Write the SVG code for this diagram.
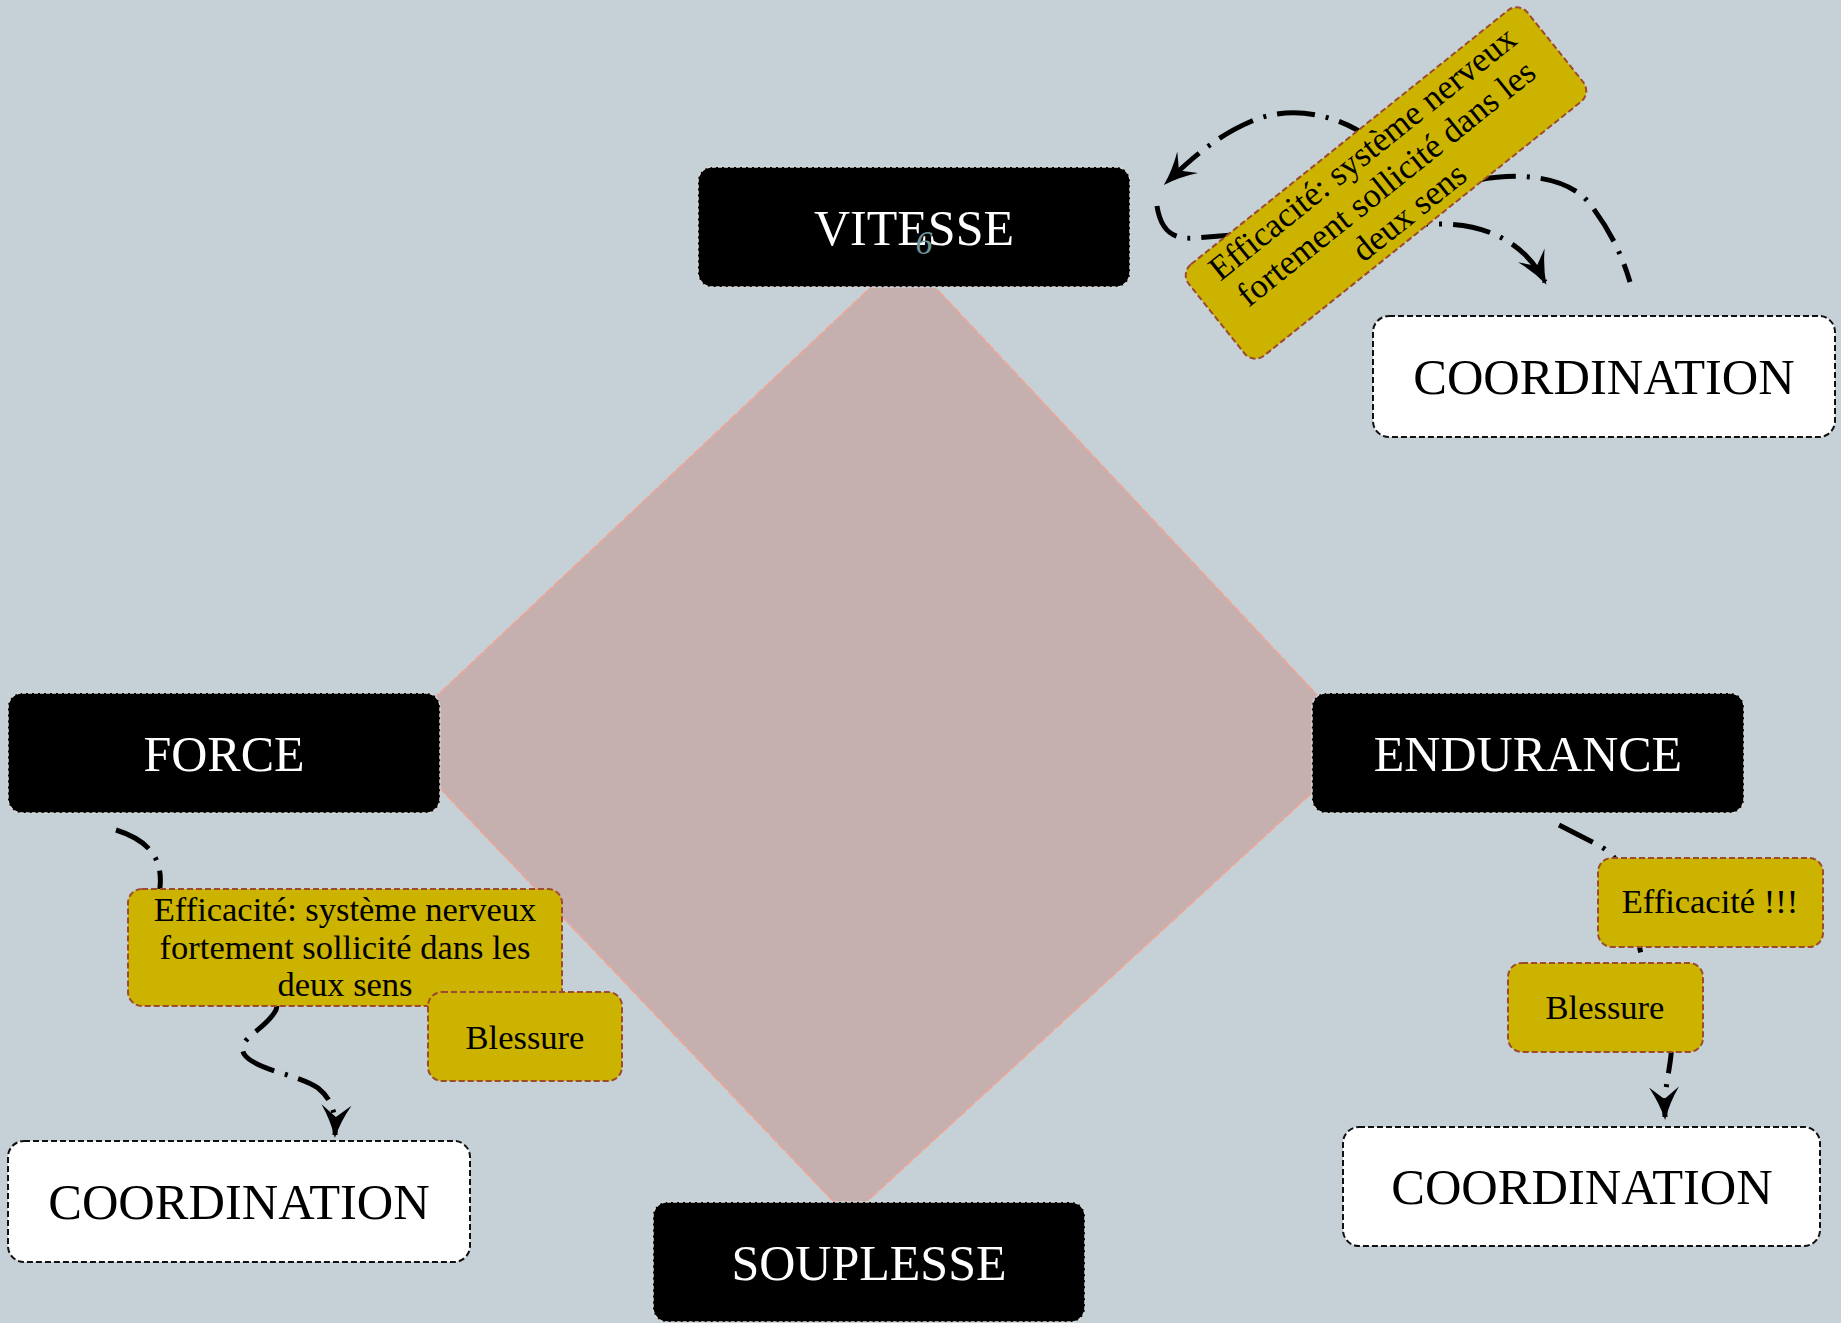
<svg xmlns="http://www.w3.org/2000/svg" width="1841" height="1323" viewBox="0 0 1841 1323">
<defs>
<style>
.lbl{font-family:"Liberation Serif","Times New Roman",serif;text-anchor:middle}
.main rect{fill:#000;stroke:#d8d8d8;stroke-width:1.5;stroke-dasharray:4 2}
.main text{fill:#fff;font-size:50px}
.coord rect{fill:#fff;stroke:#111;stroke-width:2;stroke-dasharray:6 3}
.coord text{fill:#000;font-size:50.5px}
.note rect{fill:#cbb300;stroke:#9c4a30;stroke-width:2;stroke-dasharray:6 3}
.note text{fill:#000;font-size:34.5px}
.conn{fill:none;stroke:#000;stroke-width:5;stroke-dasharray:38 11 3 11}
.arrow{marker-end:url(#arr)}
</style>
<marker id="arr" markerUnits="userSpaceOnUse" markerWidth="40" markerHeight="40" viewBox="-34 -20 40 40" refX="0" refY="0" orient="auto">
<path d="M3,0 Q-14,-5 -30,-15 L-18,0 L-30,15 Q-14,5 3,0 Z" fill="#000"/>
</marker>
</defs>
<rect width="1841" height="1323" fill="#c5d1d7"/>
<g id="diamond">
<polygon points="905,255 1364,745 849,1218 392,738" fill="#c6b0af" stroke="#f3a493" stroke-width="1.5" stroke-dasharray="10 2"/>
</g>
<g id="connectors">
<path class="conn arrow" d="M1559,825 L1598,845 C1618,855 1628,875 1632,905 C1636,935 1640,950 1645,970 C1658,1010 1673,1035 1671,1055 C1669,1075 1664,1088 1665,1117"/>
<path class="conn arrow" d="M116,830 C148,840 163,858 160,887 C156,950 292,960 276,1010 C266,1030 236,1038 244,1054 C254,1070 298,1074 318,1088 C333,1100 336,1115 335,1135"/>
<path class="conn arrow" d="M1372,140 C1340,115 1292,104 1252,121 C1216,136 1190,160 1166,183"/>
<path class="conn arrow" d="M1157,206 C1160,226 1168,240 1195,238 C1260,233 1370,224 1440,224 C1490,224 1526,245 1545,282"/>
<path class="conn" d="M1478,180 C1520,172 1568,176 1590,204 C1610,230 1622,255 1630,282"/>
</g>
<g id="vitesse" class="main lbl">
<rect x="698" y="167" width="432" height="120" rx="14"/>
<text x="914" y="245">VITESSE</text>
<text x="924" y="254" style="fill:#6f9498;font-size:34px;font-style:italic">6</text>
</g>
<g id="force" class="main lbl">
<rect x="8" y="693" width="432" height="120" rx="14"/>
<text x="224" y="771">FORCE</text>
</g>
<g id="endurance" class="main lbl">
<rect x="1312" y="693" width="432" height="120" rx="14"/>
<text x="1528" y="771">ENDURANCE</text>
</g>
<g id="souplesse" class="main lbl">
<rect x="653" y="1202" width="432" height="120" rx="14"/>
<text x="869" y="1280">SOUPLESSE</text>
</g>
<g id="coord-top" class="coord lbl">
<rect x="1373" y="316" width="462" height="121" rx="16"/>
<text x="1604" y="394">COORDINATION</text>
</g>
<g id="coord-left" class="coord lbl">
<rect x="8" y="1141" width="462" height="121" rx="16"/>
<text x="239" y="1219">COORDINATION</text>
</g>
<g id="coord-right" class="coord lbl">
<rect x="1343" y="1127" width="477" height="119" rx="16"/>
<text x="1582" y="1204">COORDINATION</text>
</g>
<g id="note-vitesse" class="note lbl" transform="translate(1386,183) rotate(-38.7)">
<rect x="-217" y="-58.5" width="434" height="117" rx="14"/>
<text x="0" y="-26.5">Efficacité: système nerveux</text>
<text x="0" y="11.5">fortement sollicité dans les</text>
<text x="0" y="48.5">deux sens</text>
</g>
<g id="note-force" class="note lbl">
<rect x="128" y="889" width="434" height="117" rx="14"/>
<text x="345" y="921">Efficacité: système nerveux</text>
<text x="345" y="959">fortement sollicité dans les</text>
<text x="345" y="996">deux sens</text>
</g>
<g id="blessure-force" class="note lbl">
<rect x="428" y="992" width="194" height="89" rx="14"/>
<text x="525" y="1049">Blessure</text>
</g>
<g id="efficacite-endurance" class="note lbl">
<rect x="1598" y="858" width="225" height="89" rx="14"/>
<text x="1710" y="913">Efficacité !!!</text>
</g>
<g id="blessure-endurance" class="note lbl">
<rect x="1508" y="963" width="195" height="89" rx="14"/>
<text x="1605" y="1019">Blessure</text>
</g>
</svg>
